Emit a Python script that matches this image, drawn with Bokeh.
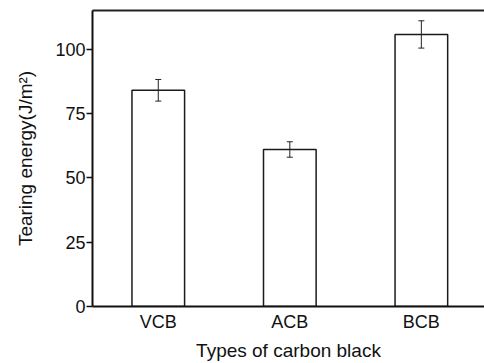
from bokeh.plotting import figure
from bokeh.models import Range1d, FixedTicker, LinearAxis, ColumnDataSource, Whisker, TeeHead
from bokeh.embed import file_html
from bokeh.resources import INLINE

categories = ["VCB", "ACB", "BCB"]
tearing_energy = [84.0, 61.0, 105.7]
error = [4.2, 3.0, 5.3]

xs = [i + 1 for i in range(len(categories))]
src = ColumnDataSource(dict(
    x=xs, top=tearing_energy,
    upper=[v + e for v, e in zip(tearing_energy, error)],
    lower=[v - e for v, e in zip(tearing_energy, error)],
))

FONT = "Liberation Sans"

p = figure(width=484, height=363, output_backend="svg", toolbar_location=None,
           x_range=Range1d(0.5, 3.48), y_range=Range1d(0, 115),
           min_border_left=92, min_border_right=0, min_border_top=10, min_border_bottom=56)
p.outline_line_color = None
p.grid.visible = False
p.background_fill_color = "white"
p.border_fill_color = "white"

p.vbar(x="x", top="top", bottom=0, width=0.4, source=src,
       fill_color="white", line_color="#1a1a1a", line_width=1.5)

w = Whisker(base="x", upper="upper", lower="lower", source=src,
            line_color="#222222", line_width=1, level="overlay",
            upper_head=TeeHead(size=6, line_color="#222222", line_width=1),
            lower_head=TeeHead(size=6, line_color="#222222", line_width=1))
p.add_layout(w)

# y axis
ya = p.yaxis[0]
ya.ticker = FixedTicker(ticks=[0, 25, 50, 75, 100])
ya.axis_label = "Tearing energy(J/m²)"
ya.axis_label_text_font = FONT
ya.axis_label_text_font_size = "19px"
ya.axis_label_text_font_style = "normal"
ya.axis_label_text_color = "#111111"
ya.axis_label_standoff = 16
ya.major_label_text_font = FONT
ya.major_label_text_font_size = "18px"
ya.major_label_text_color = "#111111"
ya.major_label_standoff = 1
ya.major_tick_in = 0
ya.major_tick_out = 6
ya.minor_tick_line_color = None
ya.axis_line_width = 2
ya.axis_line_color = "#111111"
ya.major_tick_line_color = "#111111"
ya.major_tick_line_width = 1.5

# x axis
xa = p.xaxis[0]
xa.ticker = FixedTicker(ticks=xs)
xa.major_label_overrides = {x: c for x, c in zip(xs, categories)}
xa.axis_label = "Types of carbon black"
xa.axis_label_text_font = FONT
xa.axis_label_text_font_size = "19px"
xa.axis_label_text_font_style = "normal"
xa.axis_label_text_color = "#111111"
xa.axis_label_standoff = 5
xa.major_label_text_font = FONT
xa.major_label_text_font_size = "18px"
xa.major_label_text_color = "#111111"
xa.major_label_standoff = 5
xa.major_tick_in = 0
xa.major_tick_out = 0
xa.minor_tick_line_color = None
xa.axis_line_width = 2
xa.axis_line_color = "#111111"

# top border line
top = LinearAxis(ticker=FixedTicker(ticks=[]), major_label_text_font_size="0px",
                 major_tick_line_color=None, minor_tick_line_color=None,
                 axis_line_width=2, axis_line_color="#222222")
p.add_layout(top, "above")

open("out.html", "w").write(file_html(p, INLINE))
